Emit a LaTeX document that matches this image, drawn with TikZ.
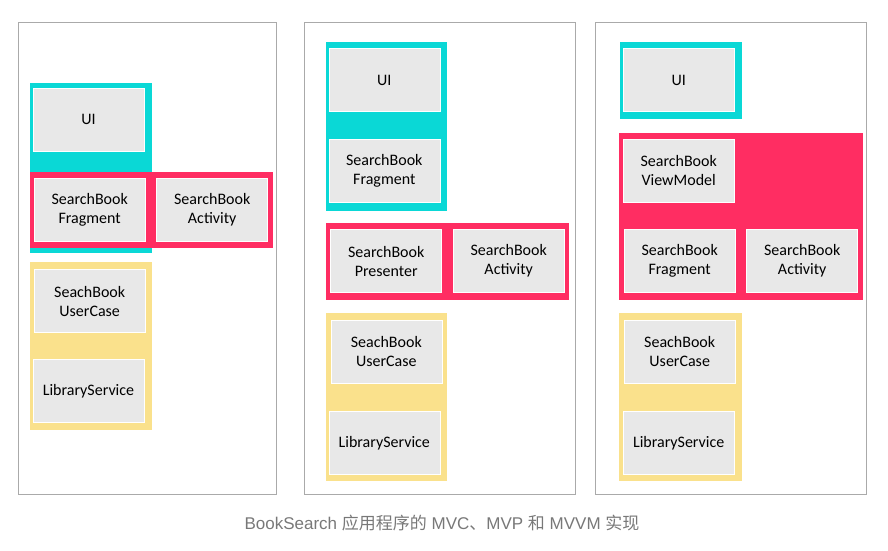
\documentclass[tikz,border=0pt]{standalone}
\usepackage{fontspec}
\setmainfont{Carlito}
\newfontfamily\capfont{Liberation Sans}
\newfontfamily\cjk{Noto Sans CJK SC}
\definecolor{uicyan}{RGB}{10,216,214}
\definecolor{ctrlred}{RGB}{255,45,98}
\definecolor{modelyellow}{RGB}{250,225,140}
\definecolor{boxgray}{RGB}{232,232,232}
\definecolor{framegray}{RGB}{170,170,170}
\definecolor{capgray}{RGB}{120,120,120}
\tikzset{
  part/.style={fill=boxgray, draw=white, line width=0.6pt, inner sep=0pt,
    minimum width=111pt, minimum height=63pt, align=center,
    font=\fontsize{16}{19}\selectfont, text=black},
  panel/.style={draw=framegray, line width=0.9pt},
}
\begin{document}
\begin{tikzpicture}[x=1pt,y=-1pt]
    \useasboundingbox (0,0) rectangle (888,550);
    % panels
    \draw[panel] (18,22) rectangle (276,494);
    \draw[panel] (304,22) rectangle (575,494);
    \draw[panel] (595,22) rectangle (866,494);
    % MVC
    \fill[uicyan] (30,83) rectangle (151.7,253);
    \fill[ctrlred] (30,172) rectangle (273,248);
    \fill[modelyellow] (30,261.7) rectangle (151.7,430);
    \node[part] (ui1) at (88.5,119.5) {UI};
    \node[part] (frag1) at (89.7,210) {SearchBook\\Fragment};
    \node[part] (act1) at (212.2,210) {SearchBook\\Activity};
    \node[part] (uc1) at (89.7,301) {SeachBook\\UserCase};
    \node[part] (lib1) at (88.5,391) {LibraryService};
    % MVP
    \fill[uicyan] (326,42.3) rectangle (447.3,211);
    \fill[ctrlred] (326,223.3) rectangle (569.3,300);
    \fill[modelyellow] (326,312.7) rectangle (447.3,481);
    \node[part] (ui2) at (384.3,80) {UI};
    \node[part] (frag2) at (384.3,170.7) {SearchBook\\Fragment};
    \node[part] (pres2) at (386.2,261.2) {SearchBook\\Presenter};
    \node[part] (act2) at (508.7,261.2) {SearchBook\\Activity};
    \node[part] (uc2) at (386.3,351.8) {SeachBook\\UserCase};
    \node[part] (lib2) at (384.3,443) {LibraryService};
    % MVVM
    \fill[uicyan] (620,42.3) rectangle (741.7,119);
    \fill[ctrlred] (619.3,132.7) rectangle (863.3,300);
    \fill[modelyellow] (619.3,312.7) rectangle (741.7,481);
    \node[part] (ui3) at (678.7,80) {UI};
    \node[part] (vm3) at (678.7,170.8) {SearchBook\\ViewModel};
    \node[part] (frag3) at (679.7,261.2) {SearchBook\\Fragment};
    \node[part] (act3) at (802.2,261.2) {SearchBook\\Activity};
    \node[part] (uc3) at (679.7,351.8) {SeachBook\\UserCase};
    \node[part] (lib3) at (678.7,443) {LibraryService};
    % caption
    \node[text=capgray, font=\capfont\fontsize{17}{20}\selectfont] (caption) at (442,523)
      {BookSearch {\cjk 应用程序的} MVC{\cjk 、}MVP {\cjk 和} MVVM {\cjk 实现}};
\end{tikzpicture}
\end{document}
